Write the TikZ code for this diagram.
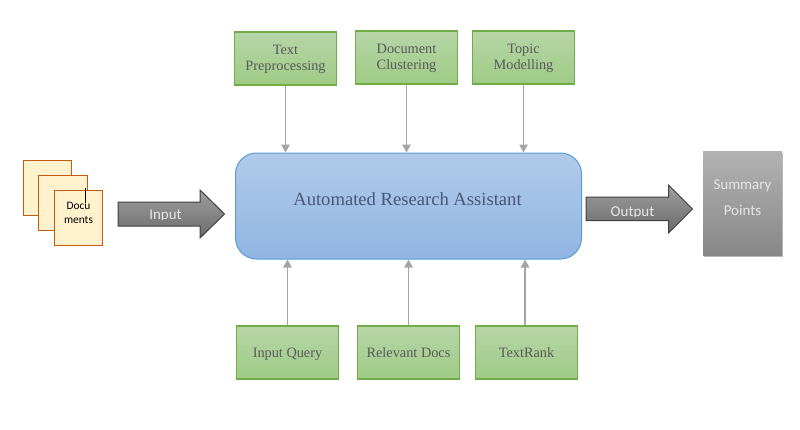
\documentclass[tikz,border=0pt]{standalone}
\usepackage{fontspec}
\setmainfont{Liberation Serif}
\newfontfamily\calib{Carlito}
\usetikzlibrary{arrows.meta,shadows}
\definecolor{grnB}{HTML}{70AD47}
\definecolor{grnT}{HTML}{B6D5A8}
\definecolor{grnL}{HTML}{9FCB85}
\definecolor{bluB}{HTML}{5B9BD5}
\definecolor{bluT}{HTML}{B1CBE9}
\definecolor{bluL}{HTML}{91B5E3}
\definecolor{docF}{HTML}{FFF2CC}
\definecolor{docB}{HTML}{C55A11}
\definecolor{conn}{HTML}{A5A5A5}
\definecolor{lbl}{HTML}{595959}
\definecolor{ttl}{HTML}{46587A}
\newcommand\lowerline[2]{\raisebox{-#1pt}[0pt][0pt]{#2}}
\tikzset{
  greenbox/.style={draw=grnB,line width=1.1pt,top color=grnT,bottom color=grnL,minimum width=102pt,minimum height=53pt,inner sep=0pt,align=center,text=lbl,font=\fontsize{14.3}{16}\selectfont},
  docbox/.style={draw=docB,line width=1pt,fill=docF,minimum width=48.5pt,minimum height=55pt,inner sep=0pt,align=center},
  linkarrow/.style={draw=conn,line width=1.2pt,-{Triangle[length=8pt,width=8.5pt]}},
  blockarrow/.style={draw=black!75,line width=1pt,top color=black!38,bottom color=black!58},
  blocklabel/.style={text=white!90!black,font=\calib\fontsize{15}{18}\selectfont,inner sep=0pt,anchor=base},
}
\begin{document}
\begin{tikzpicture}[x=1pt,y=-1pt]
\useasboundingbox (0,0) rectangle (800,429);
% central block
\node[draw=bluB,line width=1pt,rounded corners=21pt,top color=bluT,bottom color=bluL,minimum width=346pt,minimum height=106pt,inner sep=0pt] (main) at (408.5,206) {};
\node[text=ttl,font=\fontsize{18.6}{20}\selectfont,inner sep=0pt] (title) at (407.5,199) {Automated Research Assistant};
% top boxes
\node[greenbox] (tp) at (285.5,58.5) {\lowerline{3.5}{Text}\\\lowerline{3.5}{Preprocessing}};
\node[greenbox] (dc) at (406.5,57.5) {\lowerline{4}{Document}\\\lowerline{4}{Clustering}};
\node[greenbox] (tm) at (523.5,57.5) {\lowerline{4}{Topic}\\\lowerline{4}{Modelling}};
% bottom boxes
\node[greenbox] (iq) at (287.5,352.5) {\lowerline{4.5}{Input Query}};
\node[greenbox] (rd) at (408.5,352.5) {\lowerline{4.5}{Relevant Docs}};
\node[greenbox] (tr) at (526.5,352.5) {\lowerline{4.5}{TextRank}};
% connectors
\draw[linkarrow] (tp.south) -- (tp.south |- main.north);
\draw[linkarrow] (dc.south) -- (dc.south |- main.north);
\draw[linkarrow] (tm.south) -- (tm.south |- main.north);
\draw[linkarrow] (iq.north) -- (iq.north |- main.south);
\draw[linkarrow] (rd.north) -- (rd.north |- main.south);
\draw[linkarrow] ([xshift=-1.5pt]tr.north) -- ([xshift=-1.5pt]tr.north |- main.south);
% documents
\node[docbox] (d1) at (47.5,188) {};
\node[docbox] (d2) at (63,203) {};
\node[docbox] (d3) at (78.5,218) {};
\node[font=\calib\fontsize{11.4}{14}\selectfont,text=black,align=center,inner sep=0pt] (dtext) at (78.5,213) {Docu\\ments};
\coordinate (tickA) at (85,188);
\coordinate (tickB) at (85,203);
\draw[black,line width=0.8pt] (tickA) -- (tickB);
% input arrow
\path[blockarrow] (118,202) -- (200,202) -- (200,190) -- (224.5,214) -- (200,238) -- (200,226) -- (118,226) -- cycle;
\begin{scope}
\clip (118,202) rectangle (200,219);
\node[blocklabel] (input) at (165.5,219) {Input};
\end{scope}
% output arrow
\path[blockarrow] (586,197) -- (668.5,197) -- (668.5,185) -- (692.5,209) -- (668.5,233) -- (668.5,220.5) -- (586,220.5) -- cycle;
\begin{scope}
\clip (586,197) rectangle (668,216);
\node[blocklabel] (output) at (632.5,216) {Output};
\end{scope}
% summary
\node[top color=black!30,bottom color=black!47,minimum width=79pt,minimum height=104pt,inner sep=0pt,drop shadow={shadow xshift=0.5pt,shadow yshift=-1.5pt,opacity=.55}] (sum) at (742.5,203) {};
\node[text=white!90!black,align=center,inner sep=0pt,font=\calib\fontsize{15}{26}\selectfont] (sumtext) at (742.5,198) {Summary\\Points};
\end{tikzpicture}
\end{document}
